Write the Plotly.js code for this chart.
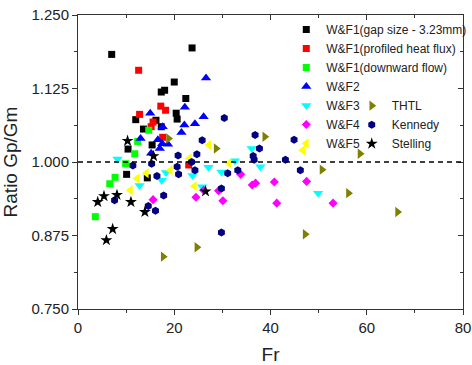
<!DOCTYPE html>
<html>
<head>
<meta charset="utf-8">
<script src="https://cdn.plot.ly/plotly-3.0.1.min.js"></script>
<style>html,body{margin:0;padding:0;background:#fff;}#chart{width:472px;height:365px;}</style>
</head>
<body>
<div id="chart"></div>
<script>
// ---- data (Fr, Ratio Gp/Gm) ----
const wf1gapX = [7.0, 23.7, 20.0, 18.0, 17.3, 22.4, 20.4, 20.6, 12.0, 16.2, 17.3, 13.6, 15.4, 10.4, 10.1, 14.4];
const wf1gapY = [1.183, 1.194, 1.136, 1.122, 1.119, 1.108, 1.083, 1.073, 1.072, 1.071, 1.060, 1.056, 1.029, 1.022, 0.979, 0.973];

const wf1profX = [12.6, 12.8, 17.2, 18.2, 15.6, 15.2, 17.6, 23.0];
const wf1profY = [1.156, 1.081, 1.095, 1.088, 1.068, 1.060, 1.042, 0.995];

const wf1downX = [14.7, 12.4, 11.8, 9.9, 7.7, 6.6, 3.6];
const wf1downY = [1.054, 1.035, 1.014, 0.997, 0.974, 0.963, 0.907];

const wf2X = [26.6, 22.2, 15.0, 26.1, 24.3, 22.1, 17.6, 21.5, 13.0, 16.6, 17.5, 18.7, 17.0, 15.2];
const wf2Y = [1.143, 1.093, 1.083, 1.077, 1.065, 1.063, 1.060, 1.050, 1.040, 1.038, 1.031, 1.030, 1.023, 1.015];

const wf3X = [8.2, 12.8, 17.4, 18.3, 23.8, 27.1, 29.8, 25.8, 36.1, 32.6, 37.9, 49.9];
const wf3Y = [1.005, 0.960, 0.969, 0.982, 0.977, 0.991, 0.983, 0.958, 1.023, 1.002, 0.992, 0.947];

const wf4X = [15.6, 24.5, 26.1, 29.2, 30.1, 33.8, 36.9, 36.2, 40.8, 47.5, 41.3, 53.0];
const wf4Y = [0.936, 0.940, 0.952, 0.951, 0.934, 0.979, 0.964, 0.961, 0.966, 0.967, 0.930, 0.930];

const wf5X = [27.2, 14.2, 12.3, 10.9, 19.2, 23.1, 24.2, 31.4, 46.7];
const wf5Y = [1.029, 0.981, 0.972, 0.952, 0.986, 1.006, 0.959, 0.998, 1.020];

const thtlX = [18.8, 28.7, 38.8, 50.7, 56.2, 58.6, 66.4, 47.2, 24.7, 17.7];
const thtlY = [1.040, 1.023, 1.043, 0.987, 0.947, 1.014, 0.915, 0.877, 0.855, 0.839];

const kennedyX = [30.4, 25.8, 36.8, 44.9, 37.7, 36.4, 36.6, 43.1, 46.2, 33.2, 31.1, 29.8, 29.8, 11.4, 15.3, 20.8, 24.7, 23.6, 20.6, 20.9, 24.3, 16.4, 17.8, 14.6, 16.1, 7.6];
const kennedyY = [1.075, 1.037, 1.046, 1.038, 1.023, 1.010, 1.004, 1.004, 0.986, 0.986, 0.981, 0.955, 0.880, 0.994, 0.997, 1.011, 1.013, 1.000, 0.992, 0.979, 0.986, 0.976, 0.943, 0.925, 0.917, 0.935];

const stellingX = [10.3, 15.7, 8.1, 5.4, 4.1, 11.0, 13.9, 7.2, 5.9, 26.5];
const stellingY = [1.036, 1.010, 0.944, 0.942, 0.932, 0.932, 0.915, 0.886, 0.867, 0.950];

const seriesNames = ['W&F1(gap size - 3.23mm)', 'W&F1(profiled heat flux)', 'W&F1(downward flow)',
  'W&F2', 'W&F3', 'W&F4', 'W&F5', 'THTL', 'Kennedy', 'Stelling'];
const refRatio = 1.0;
const xRange = [0, 80];
const yRange = [0.75, 1.25];

// ---- traces ----
function pts(name, x, y, symbol, color, size, legend) {
  return {type: 'scatter', mode: 'markers', name: name, x: x, y: y,
    marker: {symbol: symbol, color: color, size: size, line: {width: 0}},
    legend: legend, cliponaxis: false};
}
const data = [
  pts(seriesNames[0], wf1gapX, wf1gapY, 'square', '#000000', 7, 'legend'),
  pts(seriesNames[1], wf1profX, wf1profY, 'square', '#FF0000', 7, 'legend'),
  pts(seriesNames[2], wf1downX, wf1downY, 'square', '#00FF00', 7, 'legend'),
  pts(seriesNames[3], wf2X, wf2Y, 'triangle-up', '#0000FF', 9, 'legend'),
  pts(seriesNames[4], wf3X, wf3Y, 'triangle-down', '#00FFFF', 9, 'legend'),
  pts(seriesNames[5], wf4X, wf4Y, 'diamond', '#FF00FF', 7, 'legend'),
  pts(seriesNames[6], wf5X, wf5Y, 'triangle-left', '#FFFF00', 9, 'legend'),
  pts(seriesNames[7], thtlX, thtlY, 'triangle-right', '#808000', 9, 'legend2'),
  pts(seriesNames[8], kennedyX, kennedyY, 'hexagon', '#000080', 8, 'legend2'),
  pts(seriesNames[9], stellingX, stellingY, 'star', '#000000', 9, 'legend2'),
  // empty trace to anchor the mirrored top/right axes
  {type: 'scatter', mode: 'markers', x: [], y: [], xaxis: 'x2', yaxis: 'y2', showlegend: false, hoverinfo: 'skip'}
];

const font = 'Arial, "Liberation Sans", sans-serif';
const axisCol = '#333333';
const tickFont = {family: font, size: 15, color: '#222'};

const layout = {
  width: 472, height: 365,
  margin: {l: 78, r: 9, t: 15, b: 56, autoexpand: false},
  paper_bgcolor: '#fff', plot_bgcolor: '#fff',
  font: {family: font, color: '#222'},
  showlegend: true,
  xaxis: {
    range: xRange, dtick: 20, tick0: 0, showgrid: false, zeroline: false, automargin: false,
    showline: true, linecolor: axisCol, linewidth: 1,
    ticks: 'outside', ticklen: 5, tickcolor: axisCol,
    minor: {dtick: 10, ticks: 'outside', ticklen: 3, tickcolor: axisCol, showgrid: false},
    tickfont: tickFont,
    title: {text: 'Fr', font: {family: font, size: 19, color: '#222'}, standoff: 12}
  },
  yaxis: {
    range: yRange, dtick: 0.125, tick0: 0.75, tickformat: '.3f', showgrid: false, zeroline: false, automargin: false,
    showline: true, linecolor: axisCol, linewidth: 1,
    ticks: 'outside', ticklen: 5, tickcolor: axisCol,
    minor: {dtick: 0.0625, ticks: 'outside', ticklen: 3, tickcolor: axisCol, showgrid: false},
    tickfont: tickFont,
    title: {text: 'Ratio Gp/Gm', font: {family: font, size: 19, color: '#222'}, standoff: 8}
  },
  xaxis2: {
    overlaying: 'x', side: 'top', anchor: 'y2', range: xRange, dtick: 20, tick0: 0, automargin: false,
    showgrid: false, zeroline: false, showticklabels: false,
    showline: true, linecolor: axisCol, linewidth: 1,
    ticks: 'inside', ticklen: 5, tickcolor: axisCol,
    minor: {dtick: 10, ticks: 'inside', ticklen: 3, tickcolor: axisCol, showgrid: false}
  },
  yaxis2: {
    overlaying: 'y', side: 'right', anchor: 'x2', range: yRange, dtick: 0.125, tick0: 0.75, automargin: false,
    showgrid: false, zeroline: false, showticklabels: false,
    showline: true, linecolor: axisCol, linewidth: 1,
    ticks: 'inside', ticklen: 5, tickcolor: axisCol,
    minor: {dtick: 0.0625, ticks: 'inside', ticklen: 3, tickcolor: axisCol, showgrid: false}
  },
  legend: {
    x: 0.541, xanchor: 'left', y: 1.0, yanchor: 'top',
    bgcolor: 'rgba(0,0,0,0)', borderwidth: 0, tracegroupgap: 0,
    font: {family: font, size: 12, color: '#222'}
  },
  legend2: {
    x: 0.711, xanchor: 'left', y: 0.741, yanchor: 'top',
    bgcolor: 'rgba(0,0,0,0)', borderwidth: 0, tracegroupgap: 0,
    font: {family: font, size: 12, color: '#222'}
  },
  shapes: [{
    type: 'line', xref: 'paper', x0: 0, x1: 1, yref: 'y', y0: refRatio, y1: refRatio,
    line: {color: '#000', width: 1.5, dash: '5px,4px'}, layer: 'above'
  }]
};

Plotly.newPlot('chart', data, layout, {staticPlot: true, displayModeBar: false});
</script>
</body>
</html>
